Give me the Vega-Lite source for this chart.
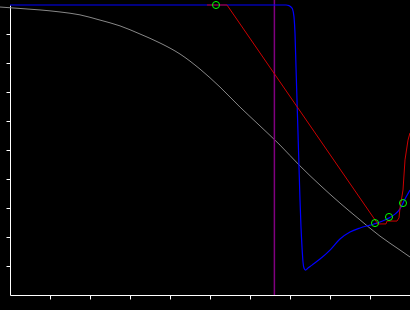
{
  "$schema": "https://vega.github.io/schema/vega-lite/v6.json",
  "width": 400,
  "height": 290,
  "autosize": {"type": "none"},
  "padding": {"left": 10, "top": 5, "right": 0, "bottom": 15},
  "background": "#000000",
  "config": {"view": {"stroke": null}},
  "datasets": {
    "gray": [
      {"x": -0.025, "y": 0.993}, {"x": 0.025, "y": 0.988}, {"x": 0.075, "y": 0.983},
      {"x": 0.125, "y": 0.976}, {"x": 0.175, "y": 0.966}, {"x": 0.225, "y": 0.948},
      {"x": 0.275, "y": 0.928}, {"x": 0.325, "y": 0.9}, {"x": 0.375, "y": 0.869},
      {"x": 0.425, "y": 0.831}, {"x": 0.475, "y": 0.779}, {"x": 0.525, "y": 0.717},
      {"x": 0.575, "y": 0.648}, {"x": 0.625, "y": 0.583}, {"x": 0.675, "y": 0.517},
      {"x": 0.725, "y": 0.445}, {"x": 0.775, "y": 0.379}, {"x": 0.825, "y": 0.317},
      {"x": 0.875, "y": 0.259}, {"x": 0.925, "y": 0.203}, {"x": 0.975, "y": 0.155},
      {"x": 1.0, "y": 0.131}
    ],
    "blue": [
      {"x": 0.0, "y": 1.0}, {"x": 0.475, "y": 1.0}, {"x": 0.69, "y": 1.0},
      {"x": 0.6975, "y": 0.998}, {"x": 0.7025, "y": 0.993}, {"x": 0.70625, "y": 0.986},
      {"x": 0.71, "y": 0.959}, {"x": 0.7125, "y": 0.903}, {"x": 0.715, "y": 0.786},
      {"x": 0.7175, "y": 0.672}, {"x": 0.72, "y": 0.559}, {"x": 0.7225, "y": 0.441},
      {"x": 0.725, "y": 0.328}, {"x": 0.7275, "y": 0.234}, {"x": 0.73, "y": 0.166},
      {"x": 0.7325, "y": 0.114}, {"x": 0.735, "y": 0.093}, {"x": 0.73875, "y": 0.086},
      {"x": 0.7425, "y": 0.09}, {"x": 0.755, "y": 0.103}, {"x": 0.775, "y": 0.124},
      {"x": 0.8, "y": 0.155}, {"x": 0.825, "y": 0.193}, {"x": 0.85, "y": 0.217},
      {"x": 0.875, "y": 0.231}, {"x": 0.9, "y": 0.241}, {"x": 0.9175, "y": 0.248},
      {"x": 0.9425, "y": 0.262}, {"x": 0.9625, "y": 0.279}, {"x": 0.975, "y": 0.297},
      {"x": 0.9875, "y": 0.331}, {"x": 1.0, "y": 0.362}
    ],
    "red": [
      {"x": 0.4925, "y": 1.0}, {"x": 0.5425, "y": 1.0}, {"x": 0.9125, "y": 0.259},
      {"x": 0.92, "y": 0.245}, {"x": 0.94, "y": 0.245}, {"x": 0.9425, "y": 0.255},
      {"x": 0.9675, "y": 0.255}, {"x": 0.9725, "y": 0.266}, {"x": 0.975, "y": 0.3},
      {"x": 0.9825, "y": 0.362}, {"x": 0.9875, "y": 0.466}, {"x": 0.995, "y": 0.534},
      {"x": 1.0, "y": 0.559}
    ],
    "green": [
      {"x": 0.515, "y": 1.0}, {"x": 0.9125, "y": 0.248},
      {"x": 0.9475, "y": 0.269}, {"x": 0.9825, "y": 0.317}
    ],
    "purple": [{"x": 0.661, "y": 0, "y2": 1.017}]
  },
  "layer": [
    {
      "data": {"name": "gray"},
      "mark": {"type": "line", "color": "#888888", "strokeWidth": 1, "interpolate": "monotone"},
      "encoding": {
        "x": {"field": "x", "type": "quantitative", "scale": {"domain": [0, 1], "nice": false, "zero": false},
          "axis": {"values": [0.1,0.2,0.3,0.4,0.5,0.6,0.7,0.8,0.9], "tickCount": 10, "labels": false, "title": null, "grid": false,
            "domainColor": "#ffffff", "tickColor": "#ffffff", "tickSize": 4, "domainWidth": 1, "tickWidth": 1}},
        "y": {"field": "y", "type": "quantitative", "scale": {"domain": [0, 1], "nice": false, "zero": false},
          "axis": {"values": [0.1,0.2,0.3,0.4,0.5,0.6,0.7,0.8,0.9], "tickCount": 10, "labels": false, "title": null, "grid": false,
            "domainColor": "#ffffff", "tickColor": "#ffffff", "tickSize": 4, "domainWidth": 1, "tickWidth": 1}}
      }
    },
    {
      "data": {"name": "purple"},
      "mark": {"type": "rule", "color": "#800080", "strokeWidth": 1.5},
      "encoding": {
        "x": {"field": "x", "type": "quantitative"},
        "y": {"field": "y", "type": "quantitative"},
        "y2": {"field": "y2"}
      }
    },
    {
      "data": {"name": "blue"},
      "mark": {"type": "line", "color": "#0000ff", "strokeWidth": 1.2, "interpolate": "monotone"},
      "encoding": {
        "x": {"field": "x", "type": "quantitative"},
        "y": {"field": "y", "type": "quantitative"}
      }
    },
    {
      "data": {"name": "red"},
      "mark": {"type": "line", "color": "#cc0000", "strokeWidth": 1},
      "encoding": {
        "x": {"field": "x", "type": "quantitative"},
        "y": {"field": "y", "type": "quantitative"}
      }
    },
    {
      "data": {"name": "green"},
      "mark": {"type": "point", "shape": "circle", "filled": false, "color": "#00ff00", "size": 50, "strokeWidth": 1, "opacity": 1},
      "encoding": {
        "x": {"field": "x", "type": "quantitative"},
        "y": {"field": "y", "type": "quantitative"}
      }
    }
  ]
}
